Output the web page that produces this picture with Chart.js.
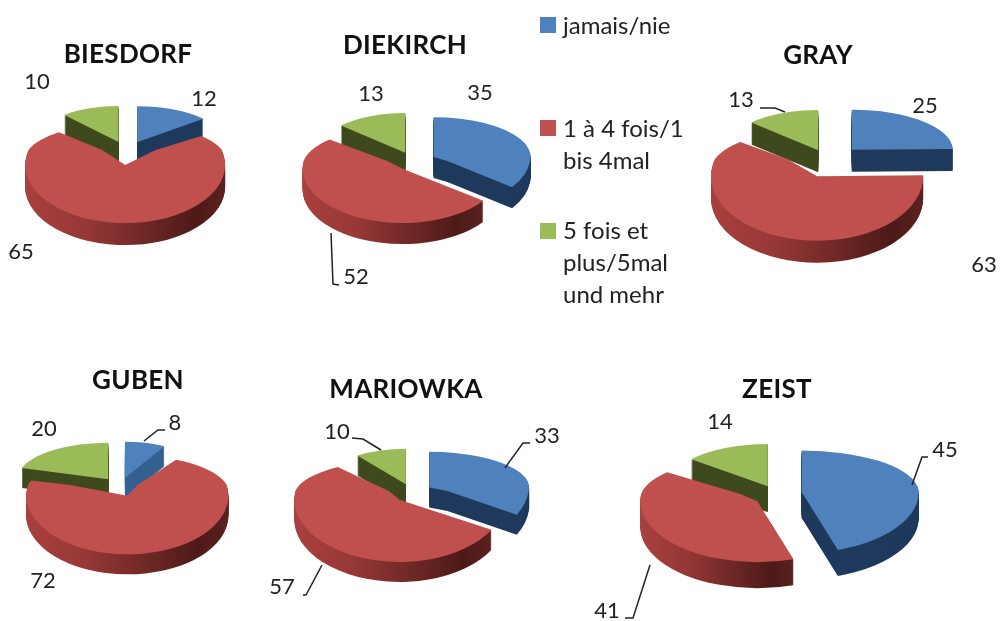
<!DOCTYPE html>
<html>
<head>
<meta charset="utf-8">
<script src="https://cdn.jsdelivr.net/npm/chart.js"></script>
<style>
  html, body { margin: 0; background: #fff; }
  #page { position: relative; width: 1003px; height: 621px; overflow: hidden; font-family: Lato, sans-serif; color: #222; filter: blur(0.6px); }
  canvas { position: absolute; }
  svg { position: absolute; left: 0; top: 0; }
  .txt { position: absolute; transform: translate(-50%, -50%); line-height: 1; white-space: nowrap; }
  .title { font-weight: 700; font-size: 26px; letter-spacing: 0.3px; color: #111; }
  .num { font-size: 22px; }
  .swatch { position: absolute; width: 16px; height: 16px; }
  .leg { position: absolute; left: 563px; font-size: 24px; line-height: 32px; white-space: nowrap; }
</style>
</head>
<body>
<div id="page"></div>
<script>
const categories = ["jamais/nie", "1 à 4 fois/1 bis 4mal", "5 fois et plus/5mal und mehr"];
const sites = ["BIESDORF", "DIEKIRCH", "GRAY", "GUBEN", "MARIOWKA", "ZEIST"];
const biesdorf = [12, 65, 10];
const diekirch = [35, 52, 13];
const gray = [25, 63, 13];
const guben = [8, 72, 20];
const mariowka = [33, 57, 10];
const zeist = [45, 41, 14];
const seriesValues = [biesdorf, diekirch, gray, guben, mariowka, zeist];

const colors = ["#4f81bd", "#c0504d", "#9bbb59"];
const sideColors = ["#1f3a5c", null, "#3f4a1e"];

// cx, cy = split line of the fake perspective, k1 = squash above it, k2 = below it
// narrow = x scale per slice, the back of the pie looks smaller
const layouts = [
  { cx: 127, cy: 150, r: 100, k1: 0.36, k2: 0.58, depth: 22, explode: [24, 26, 24], narrow: [0.87, 1, 0.82], title: [128, 53], labels: [[204, 98], [21, 251], [37, 81]] },
  { cx: 414, cy: 161, r: 97, k1: 0.41, k2: 0.56, depth: 21, explode: [22, 18, 22], narrow: [1, 1.03, 0.91], title: [405, 44], labels: [[480, 92], [356, 276], [371, 93]] },
  { cx: 828, cy: 159, r: 104, k1: 0.385, k2: 0.62, depth: 22, explode: [34, 30, 25], narrow: [0.97, 1.02, 0.89], title: [818, 54], labels: [[925, 105], [984, 264], [741, 99]] },
  { cx: 120, cy: 485, r: 101, k1: 0.36, k2: 0.58, depth: 20, explode: [20, 20, 20], narrow: [0.81, 1, 0.9], title: [138, 379], labels: [[175, 422], [43, 580], [44, 428]], blueSide: "#34608f" },
  { cx: 412, cy: 491, r: 102, k1: 0.35, k2: 0.61, depth: 20, explode: [20, 19, 20], narrow: [0.98, 1.03, 0.81], title: [406, 388], labels: [[547, 435], [282, 586], [337, 431]] },
  { cx: 778, cy: 494, r: 117, k1: 0.36, k2: 0.52, depth: 26, explode: [24, 25, 24], narrow: [1, 1, 0.85], title: [777, 388], labels: [[945, 449], [607, 610], [720, 421]] }
];

const leaders = [
  [[331, 233], [333, 284], [339, 285]],
  [[760, 108], [775, 108], [785, 112]],
  [[144, 441], [158, 430], [165, 430]],
  [[352, 438], [363, 439], [381, 450]],
  [[530, 443], [523, 443], [505, 468]],
  [[303, 595], [306, 595], [322, 565]],
  [[928, 457], [922, 457], [912, 485]],
  [[625, 618], [633, 618], [650, 565]]
];

const legendRows = [
  { y: 17, lines: ["jamais/nie"], top: 9 },
  { y: 120, lines: ["1 à 4 fois/1", "bis 4mal"], top: 112 },
  { y: 223, lines: ["5 fois et", "plus/5mal", "und mehr"], top: 214 }
];

const page = document.getElementById("page");
const PAD = 34;

function addText(cls, text, x, y) {
  const el = document.createElement("div");
  el.className = "txt " + cls;
  el.textContent = text;
  el.style.left = x + "px";
  el.style.top = y + "px";
  page.appendChild(el);
}

// draws the arcs by hand, so the pie can be squashed and given a thickness
const pie3d = {
  id: "pie3d",
  beforeDatasetDraw(chart, args, opts) {
    const ctx = chart.ctx;
    const lay = opts.layout;
    const arcs = chart.getDatasetMeta(0).data.map((arc, i) => ({ arc, i, mid: (arc.startAngle + arc.endAngle) / 2 }));
    arcs.sort((a, b) => Math.sin(a.mid) - Math.sin(b.mid));

    const faceOf = (arc, color) => {
      const ghost = Object.create(arc);
      ghost.options = { backgroundColor: color, borderColor: color, borderWidth: 0, borderAlign: "center", borderRadius: 0, offset: 0, spacing: 0, circular: true, borderDash: [], borderDashOffset: 0 };
      return ghost;
    };

    const paint = (item, color, dy) => {
      const arc = item.arc;
      const e = lay.explode[item.i];
      const ex = Math.cos(item.mid) * e;
      const ey = Math.sin(item.mid) * e;
      const ghost = faceOf(arc, color);
      const split = Math.round(arc.y) + dy;
      [[0, split, lay.k1], [split, chart.height - split, lay.k2]].forEach(([top, h, k]) => {
        ctx.save();
        ctx.beginPath();
        ctx.rect(0, top, chart.width, h);
        ctx.clip();
        ctx.translate(arc.x, arc.y + dy);
        ctx.scale(1, k);
        ctx.translate(-arc.x, -arc.y);
        ctx.translate(ex, ey);
        ctx.translate(arc.x, 0);
        ctx.scale(lay.narrow[item.i], 1);
        ctx.translate(-arc.x, 0);
        ghost.draw(ctx);
        ctx.restore();
      });
    };

    arcs.forEach((item) => {
      let side = sideColors[item.i];
      if (item.i === 0 && lay.blueSide) side = lay.blueSide;
      if (!side) {
        // red rim goes dark to the right
        const arc = item.arc;
        const left = arc.x - lay.r;
        let right = arc.x + lay.r * Math.max(Math.cos(arc.startAngle), Math.cos(arc.endAngle));
        if (arc.startAngle <= 0 && arc.endAngle >= 0) right = arc.x + lay.r;
        side = ctx.createLinearGradient(left, 0, right, 0);
        side.addColorStop(0, "#a8403e");
        side.addColorStop(0.3, "#963836");
        side.addColorStop(0.85, "#4d1a18");
        side.addColorStop(1, "#5a2120");
      }
      for (let d = lay.depth; d >= 1; d--) paint(item, side, d);
      paint(item, colors[item.i], 0);
    });
    return false;
  }
};

seriesValues.forEach((values, n) => {
  const lay = layouts[n];
  const side = 2 * (lay.r + PAD);
  const canvas = document.createElement("canvas");
  canvas.width = side;
  canvas.height = side;
  canvas.style.left = (lay.cx - side / 2) + "px";
  canvas.style.top = (lay.cy - side / 2) + "px";
  page.appendChild(canvas);

  new Chart(canvas, {
    type: "pie",
    data: {
      labels: categories,
      datasets: [{ data: values, backgroundColor: colors, borderWidth: 0 }]
    },
    options: {
      responsive: false,
      animation: false,
      layout: { padding: PAD },
      plugins: { legend: { display: false }, tooltip: { enabled: false }, pie3d: { layout: lay } }
    },
    plugins: [pie3d]
  });

  addText("title", sites[n], lay.title[0], lay.title[1]);
  values.forEach((v, i) => addText("num", String(v), lay.labels[i][0], lay.labels[i][1]));
});

// leader lines
const svg = document.createElementNS("http://www.w3.org/2000/svg", "svg");
svg.setAttribute("width", 1003);
svg.setAttribute("height", 621);
leaders.forEach((pts) => {
  const line = document.createElementNS("http://www.w3.org/2000/svg", "polyline");
  line.setAttribute("points", pts.map((p) => p.join(",")).join(" "));
  line.setAttribute("fill", "none");
  line.setAttribute("stroke", "#222");
  line.setAttribute("stroke-width", "1.5");
  svg.appendChild(line);
});
page.appendChild(svg);

// legend
legendRows.forEach((row, i) => {
  const sw = document.createElement("div");
  sw.className = "swatch";
  sw.style.left = "540px";
  sw.style.top = row.y + "px";
  sw.style.background = colors[i];
  page.appendChild(sw);
  const txt = document.createElement("div");
  txt.className = "leg";
  txt.style.top = row.top + "px";
  txt.innerHTML = row.lines.join("<br>");
  page.appendChild(txt);
});
</script>
</body>
</html>
